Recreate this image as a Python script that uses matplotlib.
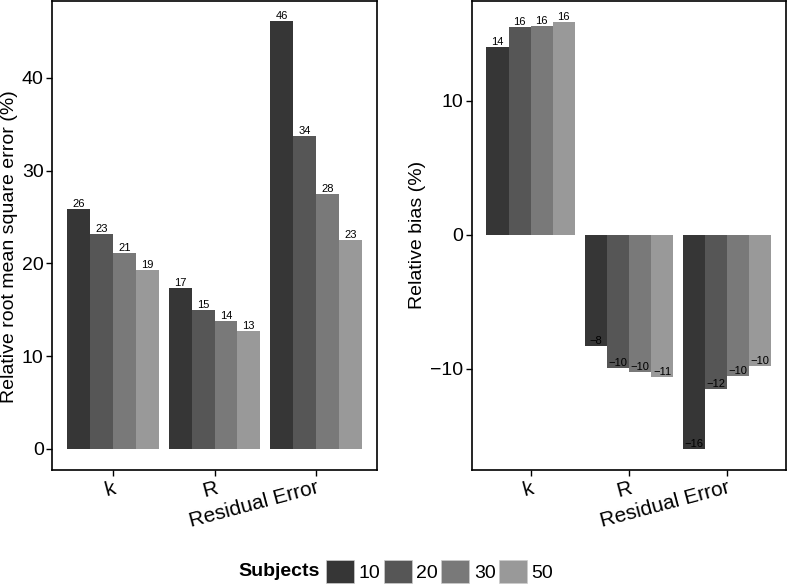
import numpy as np
import matplotlib
matplotlib.use("Agg")
import matplotlib.pyplot as plt
from matplotlib.patches import Patch

plt.rcParams['font.family'] = ['Liberation Sans', 'DejaVu Sans']

# данные
params = ["k", "R", "Residual Error"]
subjects = ["10", "20", "30", "50"]
colors = ["#363636", "#565656", "#797979", "#999999"]

rrmse = {
    "10": [25.9, 17.3, 46.1],
    "20": [23.2, 15.0, 33.7],
    "30": [21.1, 13.8, 27.5],
    "50": [19.3, 12.7, 22.5],
}
rrmse_labels = {
    "10": ["26", "17", "46"],
    "20": ["23", "15", "34"],
    "30": ["21", "14", "28"],
    "50": ["19", "13", "23"],
}
bias = {
    "10": [14.05, -8.26, -16.0],
    "20": [15.5, -9.95, -11.5],
    "30": [15.6, -10.25, -10.5],
    "50": [15.85, -10.6, -9.8],
}
bias_labels = {
    "10": ["14", "\u22128", "\u221216"],
    "20": ["16", "\u221210", "\u221212"],
    "30": ["16", "\u221210", "\u221210"],
    "50": ["16", "\u221211", "\u221210"],
}

W, H = 787, 587
fig = plt.figure(figsize=(W / 100, H / 100), dpi=100)
ax1 = fig.add_axes([0.0661, 0.1993, 0.4130, 0.7990])
ax2 = fig.add_axes([0.5994, 0.1993, 0.3993, 0.7990])

x = np.arange(1, len(params) + 1)
w = 0.225


def draw(ax, data, labels):
    for i, s in enumerate(subjects):
        xs = x + (i - 1.5) * w
        ax.bar(xs, data[s], width=w, color=colors[i], linewidth=0)
        for j, (xx, v) in enumerate(zip(xs, data[s])):
            ax.text(xx, v, labels[s][j], ha="center", va="bottom", fontsize=8)
    ax.set_xlim(0.4, 3.6)
    ax.set_xticks(x)
    ax.set_xticklabels(params, rotation=15, ha="right", rotation_mode="anchor", fontsize=15)
    ax.tick_params(axis="both", direction="out", length=4, width=1, colors="black")
    ax.tick_params(axis="x", pad=2)
    ax.tick_params(axis="y", labelsize=14, pad=2)
    for sp in ax.spines.values():
        sp.set_linewidth(1.2)


ax1.set_ylim(-2.3, 48.3)
ax1.set_yticks([0, 10, 20, 30, 40])
draw(ax1, rrmse, rrmse_labels)

ax2.set_ylim(-17.55, 17.45)
ax2.set_yticks([-10, 0, 10])
ax2.set_yticklabels(["\u221210", "0", "10"])
draw(ax2, bias, bias_labels)

# подписи осей y
fig.text(0.5 / W, 1 - 247 / H, "Relative root mean square error (%)", rotation=90,
         fontsize=14, ha="left", va="center")
fig.text(418 / W, 1 - 235 / H, "Relative bias (%)", rotation=90,
         fontsize=14, ha="center", va="center")

# легенда снизу
fig.text(238 / W, 1 - 571.7 / H, "Subjects", fontsize=14, fontweight="bold", va="center", ha="left")
handles = [Patch(facecolor=c, edgecolor="#cccccc", linewidth=0.5) for c in colors]
fig.legend(handles, subjects, loc="center left", bbox_to_anchor=(326 / W, 1 - 571.7 / H),
           ncol=4, frameon=False, fontsize=14, handlelength=1.44, handleheight=1.44,
           handletextpad=0.25, columnspacing=0.15, borderpad=0, borderaxespad=0)

fig.savefig("out.png", dpi=100)
